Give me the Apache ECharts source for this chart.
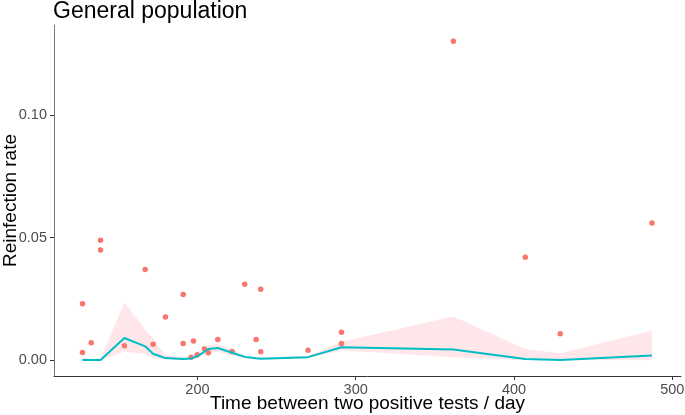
<!DOCTYPE html>
<html>
<head>
<meta charset="utf-8">
<script src="https://cdn.jsdelivr.net/npm/echarts@6/dist/echarts.min.js"></script>
<style>html,body{margin:0;padding:0;background:#fff;}#chart{width:685px;height:415px;}</style>
</head>
<body>
<div id="chart"></div>
<script>
// Observed reinfection rates (points)
var pointX = [127.4, 127.4, 132.9, 138.8, 138.8, 153.9, 167.0, 172.0, 179.8, 191.0, 191.0, 196.0, 197.5, 199.8, 204.4, 206.9, 212.9, 221.9, 229.9, 237.1, 240.0, 240.0, 269.9, 291.0, 291.0, 361.7, 407.1, 429.2, 487.2];
var pointY = [0.0230, 0.0031, 0.0071, 0.0489, 0.0449, 0.0058, 0.0369, 0.0065, 0.0176, 0.0268, 0.0068, 0.0011, 0.0078, 0.0022, 0.0045, 0.0030, 0.0084, 0.0035, 0.0309, 0.0084, 0.0289, 0.0034, 0.0040, 0.0114, 0.0068, 0.1301, 0.0419, 0.0107, 0.0559];

// Fitted curve and its confidence band
var fitX  = [127.4, 132.9, 138.8, 153.9, 167.0, 172.0, 179.8, 191.0, 196.0, 197.5, 199.8, 204.4, 206.9, 212.9, 221.9, 229.9, 237.1, 240.0, 269.9, 291.0, 361.7, 407.1, 429.2, 487.2];
var fitY  = [0.0000, 0.0000, 0.0000, 0.0090, 0.0056, 0.0026, 0.0008, 0.0004, 0.0006, 0.0010, 0.0015, 0.0034, 0.0045, 0.0049, 0.0030, 0.0013, 0.0007, 0.0005, 0.0012, 0.0052, 0.0043, 0.0004, 0.0000, 0.0019];
var fitLo = [-0.0003, -0.0003, -0.0003, 0.0035, 0.0025, 0.0008, 0.0002, 0.0000, 0.0001, 0.0003, 0.0007, 0.0020, 0.0030, 0.0034, 0.0020, 0.0007, 0.0003, 0.0002, 0.0007, 0.0040, 0.0012, 0.0000, -0.0001, 0.0000];
var fitHi = [0.0008, 0.0005, 0.0005, 0.0235, 0.0125, 0.0088, 0.0020, 0.0010, 0.0012, 0.0018, 0.0025, 0.0048, 0.0060, 0.0066, 0.0042, 0.0020, 0.0012, 0.0010, 0.0018, 0.0075, 0.0178, 0.0045, 0.0028, 0.0120];

var xTicks = [200, 300, 400, 500];
var yTicks = [0.00, 0.05, 0.10];

var chart = echarts.init(document.getElementById('chart'), null, {renderer: 'canvas'});

var pts = pointX.map(function (x, i) { return [x, pointY[i]]; });
var fit = fitX.map(function (x, i) { return [x, fitY[i]]; });
var band = fitX.map(function (x, i) { return [x, fitLo[i], fitHi[i]]; });

var font = 'Liberation Sans, Arial, sans-serif';

chart.setOption({
  animation: false,
  backgroundColor: '#ffffff',
  title: {
    text: 'General population',
    left: 53, top: 0, padding: 0,
    textStyle: {fontFamily: font, fontSize: 23, fontWeight: 'normal', color: '#000'}
  },
  grid: {left: 54, right: 4, top: 25, bottom: 39, containLabel: false, outerBoundsMode: 'none'},
  xAxis: {
    type: 'value', min: 109.4, max: 505.5,
    name: 'Time between two positive tests / day',
    nameLocation: 'middle', nameGap: 18, nameMoveOverlap: false,
    nameTextStyle: {fontFamily: font, fontSize: 19, color: '#000'},
    splitLine: {show: false},
    axisLine: {show: true, onZero: false, lineStyle: {color: '#333', width: 1}},
    axisTick: {show: true, length: 4, lineStyle: {color: '#333'}, customValues: xTicks},
    axisLabel: {fontFamily: font, fontSize: 14.5, color: '#4d4d4d', margin: 6, customValues: xTicks,
      formatter: function (v) { return String(v); }}
  },
  yAxis: {
    type: 'value', min: -0.0065, max: 0.1367,
    name: 'Reinfection rate',
    nameLocation: 'middle', nameGap: 34, nameRotate: 90, nameMoveOverlap: false,
    nameTextStyle: {fontFamily: font, fontSize: 19, color: '#000'},
    splitLine: {show: false},
    axisLine: {show: true, onZero: false, lineStyle: {color: '#777', width: 1}},
    axisTick: {show: true, length: 4, lineStyle: {color: '#333'}, customValues: yTicks},
    axisLabel: {fontFamily: font, fontSize: 14.5, color: '#4d4d4d', margin: 7, customValues: yTicks,
      formatter: function (v) { return v.toFixed(2); }}
  },
  series: [
    {
      type: 'custom',
      clip: true,
      silent: true,
      data: band,
      encode: {x: 0, y: [1, 2]},
      renderItem: function (params, api) {
        if (params.dataIndex !== 0) return null;
        var poly = [];
        for (var i = 0; i < fitX.length; i++) poly.push(api.coord([fitX[i], fitHi[i]]));
        for (var j = fitX.length - 1; j >= 0; j--) poly.push(api.coord([fitX[j], fitLo[j]]));
        return {
          type: 'polygon',
          shape: {points: poly},
          style: {fill: 'rgba(255,192,203,0.4)', stroke: null}
        };
      },
      z: 1
    },
    {
      type: 'scatter',
      data: pts,
      symbol: 'circle',
      symbolSize: 5.5,
      itemStyle: {color: '#F8766D', opacity: 1},
      z: 2
    },
    {
      type: 'line',
      data: fit,
      showSymbol: false,
      symbol: 'none',
      lineStyle: {color: '#00BFC4', width: 2},
      z: 3
    }
  ]
});
</script>
</body>
</html>
